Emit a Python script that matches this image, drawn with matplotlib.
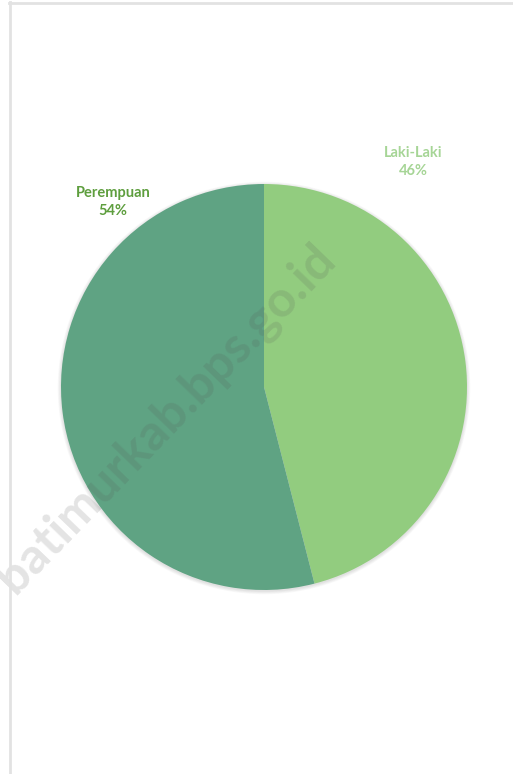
import matplotlib.pyplot as plt
from matplotlib.patches import Circle
from matplotlib.lines import Line2D

# data
labels = ['Laki-Laki', 'Perempuan']
shares = [46, 54]
colors = ['#92CC7F', '#5FA383']
label_colors = ['#A6D596', '#5E9E3E']

W, H = 513, 774
fig = plt.figure(figsize=(W / 100, H / 100), dpi=100)
ax = fig.add_axes([0, 0, 1, 1])
ax.set_xlim(0, W)
ax.set_ylim(0, H)
ax.set_aspect('equal')
ax.axis('off')

cx, cy, r = 264, H - 387, 203

# soft shadow around the pie
for i in range(5):
    ax.add_patch(Circle((cx, cy - 1), r + 0.5 + i * 0.7, color='#000000',
                        alpha=0.025, lw=0, zorder=1))

ax.pie(shares, colors=colors, startangle=90, counterclock=False,
       center=(cx, cy), radius=r, frame=True,
       wedgeprops=dict(linewidth=0, zorder=2))
ax.set_xlim(0, W)
ax.set_ylim(0, H)
ax.axis('off')

# labels outside the slices
label_pos = [(413, H - 162), (113, H - 202)]
for lab, val, col, (x, y) in zip(labels, shares, label_colors, label_pos):
    ax.text(x, y, f'{lab}\n{val}%', color=col, fontsize=10.5, fontweight='bold',
            family='Lato', ha='center', va='center', linespacing=1.45, zorder=5)

# watermark
ax.text(166, H - 418, 'batimurkab.bps.go.id', rotation=46, fontsize=36,
        fontweight='bold', family='Lato', color='#555555', alpha=0.16,
        ha='center', va='center', zorder=6)

# page border
fig.add_artist(Line2D([9.5 / W, 9.5 / W], [0, 1 - 2 / H], color='#e2e2e2', lw=2))
fig.add_artist(Line2D([9 / W, 1], [1 - 3 / H, 1 - 3 / H], color='#e2e2e2', lw=2))

fig.savefig('out.png', dpi=100, facecolor='white')
